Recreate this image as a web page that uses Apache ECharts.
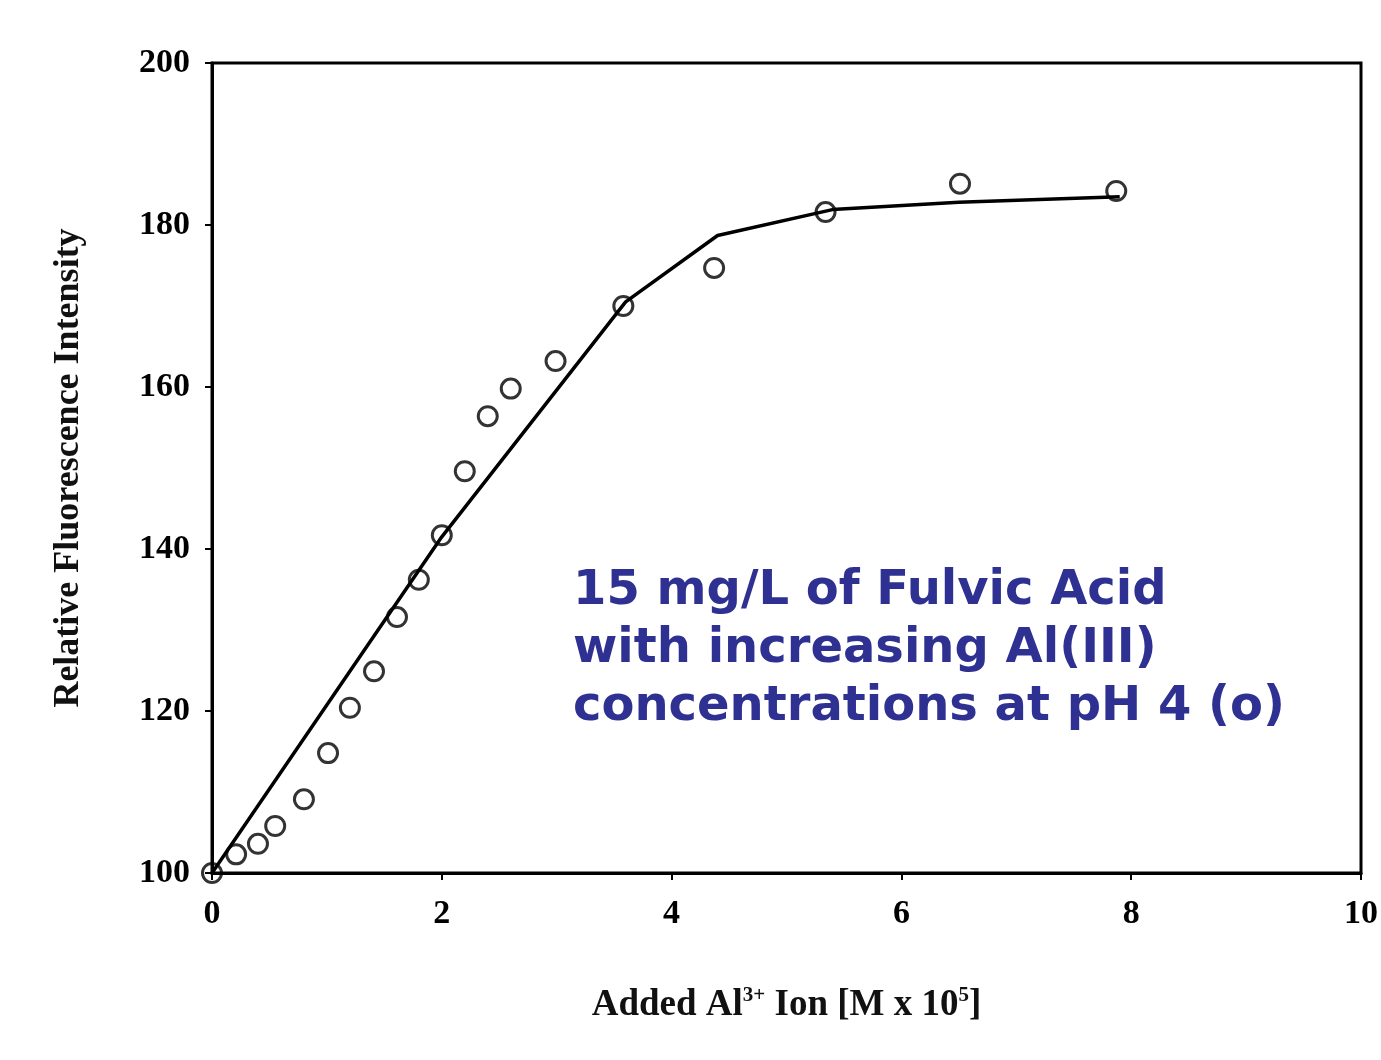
<!DOCTYPE html>
<html><head><meta charset="utf-8">
<script src="https://cdn.jsdelivr.net/npm/echarts@6/dist/echarts.min.js"></script>
<style>html,body{margin:0;padding:0;background:#fff}#c{width:1381px;height:1060px}</style>
</head><body><div id="c"></div>
<script>
// Measured data points (Added Al3+ [M x 10^5], Relative Fluorescence Intensity)
const obsX = [0, 0.21, 0.4, 0.55, 0.8, 1.01, 1.2, 1.41, 1.61, 1.8, 2.0, 2.2, 2.4, 2.6, 2.99, 3.58, 4.37, 5.34, 6.51, 7.87];
const obsY = [100, 102.3, 103.6, 105.8, 109.1, 114.8, 120.4, 124.9, 131.6, 136.2, 141.7, 149.6, 156.4, 159.8, 163.2, 170.0, 174.7, 181.6, 185.1, 184.2];
// Fitted curve
const fitX = [0, 2.0, 3.6, 4.4, 5.4, 6.5, 7.9];
const fitY = [100, 141.5, 170.5, 178.7, 181.9, 182.8, 183.5];
const xTicks = [0, 2, 4, 6, 8, 10];
const yTicks = [100, 120, 140, 160, 180, 200];
const annotation = ['15 mg/L of Fulvic Acid', 'with increasing Al(III)', 'concentrations at pH 4 (o)'];

const chart = echarts.init(document.getElementById('c'));
const serif = '"Liberation Serif","DejaVu Serif",serif';
chart.setOption({
  backgroundColor: '#ffffff',
  animation: false,
  grid: {left: 212, right: 19, top: 63, bottom: 187, show: true, borderColor: '#000', borderWidth: 3},
  xAxis: {
    type: 'value', min: xTicks[0], max: xTicks[xTicks.length-1], interval: 2,
    axisLine: {show: true, lineStyle: {color: '#000', width: 3}},
    axisTick: {show: true, length: 7, lineStyle: {color: '#000', width: 2}},
    splitLine: {show: false},
    axisLabel: {color: '#000', fontFamily: serif, fontWeight: 'bold', fontSize: 34, margin: 24},
    name: '{a|Added Al}{s|3+}{a| Ion [M x 10}{s|5}{a|]}',
    nameLocation: 'middle', nameGap: 112,
    nameTextStyle: {rich: {
      a: {fontFamily: serif, fontSize: 37, color: '#111', fontWeight: 'bold'},
      s: {fontFamily: serif, fontSize: 21, color: '#111', fontWeight: 'bold', verticalAlign: 'top', padding: [0,0,20,0]}
    }}
  },
  yAxis: {
    type: 'value', min: yTicks[0], max: yTicks[yTicks.length-1], interval: 20,
    axisLine: {show: true, lineStyle: {color: '#000', width: 3}},
    axisTick: {show: true, length: 7, lineStyle: {color: '#000', width: 2}},
    splitLine: {show: false},
    axisLabel: {color: '#000', fontFamily: serif, fontWeight: 'bold', fontSize: 34, margin: 22},
    name: 'Relative Fluorescence Intensity', nameLocation: 'middle', nameGap: 125,
    nameTextStyle: {fontFamily: serif, fontSize: 36, color: '#111', fontWeight: 'bold'}
  },
  series: [
    {type: 'line', data: fitX.map((x,i)=>[x, fitY[i]]), symbol: 'none',
     lineStyle: {color: '#000', width: 3.5}, z: 2},
    {type: 'scatter', data: obsX.map((x,i)=>[x, obsY[i]]), symbol: 'circle', symbolSize: 19,
     itemStyle: {color: 'rgba(255,255,255,0)', borderColor: '#000', borderWidth: 3}, z: 3}
  ],
  graphic: annotation.map((t, i) => ({
    type: 'text', left: 573, top: 568 + i*58,
    style: {text: t, fill: '#2e3192', font: 'bold 48px "DejaVu Sans", Verdana, sans-serif'}
  }))
});
</script></body></html>
